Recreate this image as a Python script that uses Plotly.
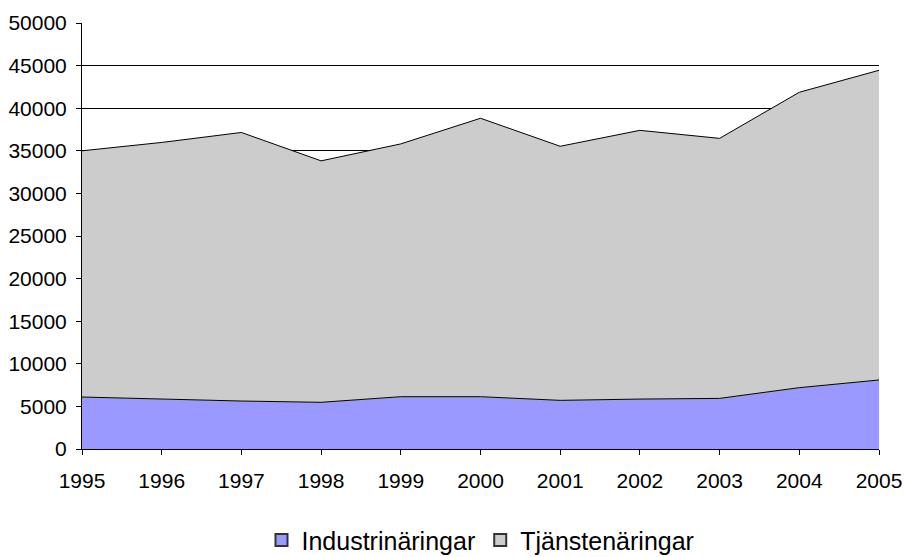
import plotly.graph_objects as go

years = [1995, 1996, 1997, 1998, 1999, 2000, 2001, 2002, 2003, 2004, 2005]
industri = [6100, 5860, 5630, 5480, 6140, 6140, 5710, 5860, 5940, 7200, 8100]
tjanste = [28900, 30120, 31520, 28340, 29670, 32680, 29820, 31540, 30520, 34670, 36350]
y_ticks = list(range(0, 50001, 5000))

series = [("Industrinäringar", industri, "#9999FF"),
          ("Tjänstenäringar", tjanste, "#CCCCCC")]

fig = go.Figure()
for name, vals, color in series:
    fig.add_trace(go.Scatter(
        x=years, y=vals, name=name, stackgroup="one", mode="lines",
        line=dict(color="#000000", width=1), fillcolor=color, showlegend=False))
# legend entries (square swatches)
for name, vals, color in series:
    fig.add_trace(go.Bar(
        x=[None], y=[None], name=name,
        marker=dict(color=color, line=dict(color="#333333", width=1)),
        showlegend=True, hoverinfo="skip"))

font_family = "Liberation Sans, Arial, sans-serif"
fig.update_layout(
    width=904, height=557,
    margin=dict(l=82, r=25, t=23, b=108, autoexpand=False),
    paper_bgcolor="white", plot_bgcolor="white",
    font=dict(family=font_family, size=21, color="#000000"),
    showlegend=True,
    legend=dict(orientation="h", x=0.5, xanchor="center", y=-0.214, yanchor="middle",
                font=dict(size=25), itemsizing="constant", tracegroupgap=0,
                traceorder="normal", itemwidth=30),
    xaxis=dict(range=[1995, 2005], tickmode="array", tickvals=years,
               ticktext=[str(y) for y in years],
               showline=True, linecolor="#000000", linewidth=1,
               ticks="outside", ticklen=5, tickcolor="#000000",
               showgrid=False, zeroline=False, automargin=False,
               ticklabelstandoff=8),
    yaxis=dict(range=[0, 50000], tickmode="array", tickvals=y_ticks,
               ticktext=[str(v) for v in y_ticks],
               showline=True, linecolor="#000000", linewidth=1,
               ticks="outside", ticklen=5, tickcolor="#000000",
               showgrid=True, gridcolor="#000000", gridwidth=1,
               zeroline=False, automargin=False, ticklabelstandoff=5),
)
fig.write_html(
    "out.html",
    config={"displayModeBar": False},
    post_script="document.body.style.margin='0';document.body.style.overflow='hidden';",
)
